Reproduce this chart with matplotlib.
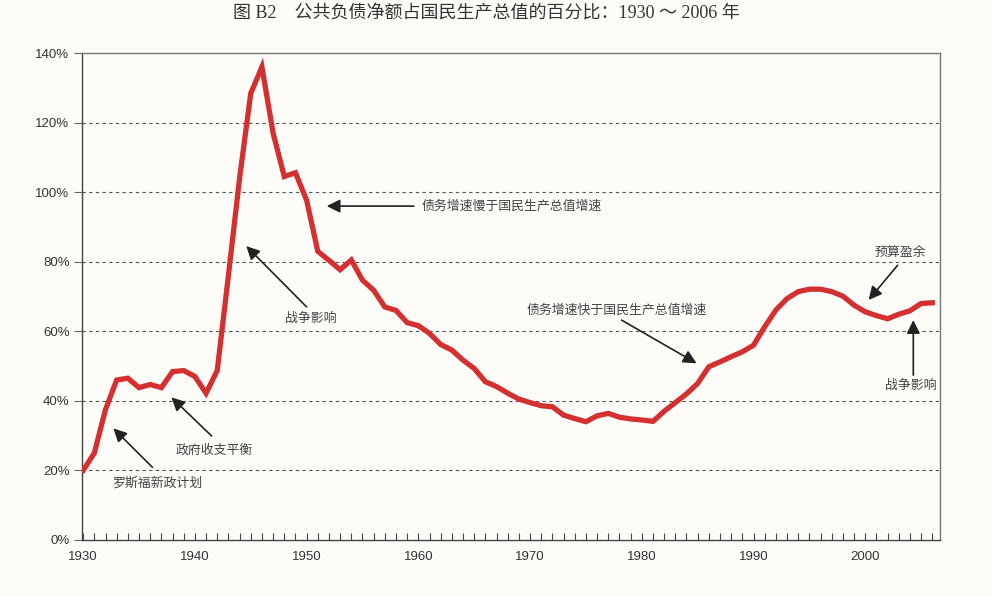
import matplotlib

matplotlib.use("Agg")
import matplotlib.pyplot as plt
import numpy as np
from matplotlib.ticker import FuncFormatter, MultipleLocator

# net public debt as % of GNP
YEARS = list(range(1930, 2007))
DEBT_PCT = [
    20, 25, 37.5, 46, 46.5, 43.8, 44.7, 43.8, 48.4, 48.7,          # 1930s
    47, 42.2, 48.7, 76, 104, 128.4, 136, 117, 104.5, 105.6,        # 1940s
    97.7, 83, 80.4, 77.7, 80.5, 74.7, 71.8, 67, 66, 62.5,          # 1950s
    61.6, 59.4, 56.2, 54.6, 51.7, 49.3, 45.5, 44.1, 42.2, 40.5,    # 1960s
    39.5, 38.6, 38.3, 35.9, 34.9, 34.0, 35.7, 36.4, 35.3, 34.8,    # 1970s
    34.5, 34.1, 37, 39.5, 42, 45, 49.8, 51.2, 52.7, 54.1,          # 1980s
    56, 61.3, 66.1, 69.4, 71.4, 72.1, 72.1, 71.4, 70.1, 67.5,      # 1990s
    65.6, 64.5, 63.6, 64.9, 65.9, 68, 68.2,                        # 2000s
]
DECADES = [1930, 1940, 1950, 1960, 1970, 1980, 1990, 2000]

TITLE = "图 B2　公共负债净额占国民生产总值的百分比：1930 ～ 2006 年"

# (text, text pos, arrow tail, arrow tip, ha)
NOTES = [
    ("罗斯福新政计划", (1936.6, 16.4), (1936.2, 20.9), (1932.7, 32.1), "center"),
    ("政府收支平衡", (1941.7, 25.7), (1941.5, 29.9), (1937.9, 41.0), "center"),
    ("战争影响", (1950.4, 63.7), (1950.0, 67.0), (1944.6, 84.5), "center"),
    ("债务增速慢于国民生产总值增速", (1960.3, 96.0), (1959.6, 96.0), (1951.8, 96.0), "left"),
    ("债务增速快于国民生产总值增速", (1969.7, 66.1), (1978.2, 63.2), (1984.9, 50.8), "left"),
    ("预算盈余", (2003.1, 82.5), (2002.9, 79.0), (2000.3, 69.0), "center"),
    ("战争影响", (2004.1, 44.5), (2004.3, 47.4), (2004.3, 63.2), "center"),
]

CJK = ["Noto Sans CJK SC", "DejaVu Sans"]
LINE_RED = "#d3302f"
PAPER = "#fdfcf9"


def main():
    assert len(YEARS) == len(DEBT_PCT)

    fig = plt.figure(figsize=(9.92, 5.96), dpi=100, facecolor=PAPER)
    ax = fig.add_axes([0.0827, 0.094, 0.865, 0.817])
    ax.set_facecolor(PAPER)

    ax.plot(YEARS, DEBT_PCT, color=LINE_RED, lw=3.8, solid_joinstyle="miter", zorder=3)

    ax.set_xlim(1929.9, 2006.7)
    ax.set_ylim(0, 140)

    # dashed gridlines
    for v in range(20, 140, 20):
        ax.axhline(v, color="#555555", lw=0.8, ls=(0, (3, 3)), zorder=1)

    for side in ("left", "bottom"):
        ax.spines[side].set_color("#444444")
        ax.spines[side].set_linewidth(1.0)
    for side in ("top", "right"):
        ax.spines[side].set_color("#777777")
        ax.spines[side].set_linewidth(1.0)

    ax.set_xticks(DECADES)
    ax.xaxis.set_minor_locator(MultipleLocator(1))
    ax.tick_params(axis="x", which="both", direction="in", length=5, width=0.8,
                   color="#444444", labelsize=9.5, labelcolor="#333333", pad=8)
    ax.set_yticks(np.arange(0, 141, 20))
    ax.yaxis.set_major_formatter(FuncFormatter(lambda v, _: f"{v:.0f}%"))
    ax.tick_params(axis="y", direction="out", length=6, width=0.8, color="#666666",
                   labelsize=9.5, labelcolor="#333333", pad=3)
    for lbl in ax.get_xticklabels() + ax.get_yticklabels():
        lbl.set_fontfamily("Liberation Sans")

    for text, pos, tail, tip, ha in NOTES:
        ax.annotate("", xy=tip, xytext=tail,
                    arrowprops=dict(arrowstyle="-|>", color="#222222", lw=1.2,
                                    mutation_scale=20, shrinkA=0, shrinkB=0),
                    zorder=4)
        ax.text(pos[0], pos[1], text, ha=ha, va="center", fontsize=9.3,
                color="#444444", family=CJK, zorder=4)

    fig.text(0.49, 0.977, TITLE, ha="center", va="center", fontsize=13,
             color="#333333", family=["Liberation Serif", "Noto Sans CJK SC"])

    fig.savefig("out.png", dpi=100, facecolor=PAPER)
    plt.close(fig)


if __name__ == "__main__":
    main()
